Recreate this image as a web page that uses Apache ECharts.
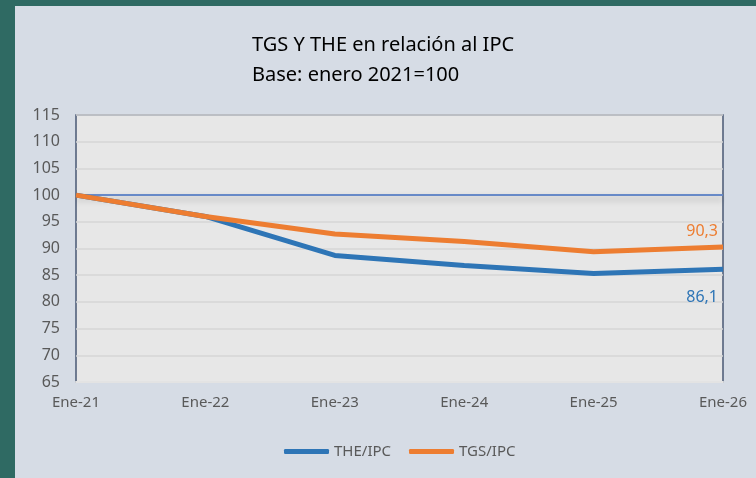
<!DOCTYPE html>
<html>
<head>
<meta charset="utf-8">
<script src="https://cdn.jsdelivr.net/npm/echarts@6/dist/echarts.min.js"></script>
<style>
  html, body { margin: 0; padding: 0; background: #2f6a63; width: 756px; height: 478px; overflow: hidden; }
  #chart { position: absolute; left: 15px; top: 6px; width: 741px; height: 472px; }
</style>
</head>
<body>
<div id="chart"></div>
<script>
// categorias y valores (indices, base enero 2021 = 100)
var months = ["Ene-21", "Ene-22", "Ene-23", "Ene-24", "Ene-25", "Ene-26"];
var theIpc = [100, 96, 88.7, 86.8, 85.3, 86.1];
var tgsIpc = [100, 96, 92.7, 91.3, 89.4, 90.3];
var baseLine = [100, 100, 100, 100, 100, 100];

var font = "Noto Sans";
var chart = echarts.init(document.getElementById("chart"));

// etiqueta del ultimo punto, con coma decimal
function endLbl(color, dy) {
  return {
    show: true,
    distance: 0,
    align: "right",
    verticalAlign: "middle",
    offset: [-5, dy],
    color: color,
    fontFamily: font,
    fontSize: 16,
    formatter: function (p) {
      return String(p.value).replace(".", ",");
    }
  };
}

var option = {
  backgroundColor: "#d6dce5",
  animation: false,
  title: {
    text: "TGS Y THE en relación al IPC\nBase: enero 2021=100",
    left: 232,
    top: 19,
    textStyle: {
      fontFamily: font,
      fontSize: 20,
      fontWeight: "normal",
      color: "#000",
      lineHeight: 30
    }
  },
  legend: {
    data: ["THE/IPC", "TGS/IPC"],
    bottom: 14,
    left: 264,
    icon: "roundRect",
    itemWidth: 45,
    itemHeight: 5,
    itemGap: 18,
    textStyle: { fontFamily: font, fontSize: 15, color: "#595959" }
  },
  grid: {
    left: 61,
    top: 109,
    right: 33,
    bottom: 96,
    show: true,
    backgroundColor: "#e7e7e7",
    borderColor: "#4a5874",
    borderWidth: 1.5
  },
  xAxis: {
    type: "category",
    data: months,
    boundaryGap: false,
    axisLine: { show: true, lineStyle: { color: "#e3e3e3", width: 2 } },
    axisTick: { show: false },
    splitLine: { show: false },
    axisLabel: { fontFamily: font, fontSize: 15, color: "#595959", margin: 13 }
  },
  yAxis: {
    type: "value",
    min: 65,
    max: 115,
    interval: 5,
    axisLine: { show: false },
    axisTick: { show: false },
    splitLine: { lineStyle: { color: "#d6d6d6", width: 1.5 } },
    axisLabel: { fontFamily: font, fontSize: 16, color: "#595959", margin: 16 }
  },
  series: [
    {
      name: "Base",
      type: "line",
      data: baseLine,
      symbol: "none",
      silent: true,
      lineStyle: {
        color: "#4472c4",
        width: 1.5,
        shadowColor: "rgba(0,0,0,0.35)",
        shadowBlur: 6,
        shadowOffsetY: 4
      }
    },
    {
      name: "THE/IPC",
      type: "line",
      data: theIpc,
      symbol: "none",
      color: "#2e75b6",
      lineStyle: { color: "#2e75b6", width: 5 },
      endLabel: endLbl("#2e75b6", 28)
    },
    {
      name: "TGS/IPC",
      type: "line",
      data: tgsIpc,
      symbol: "none",
      color: "#ed7d31",
      lineStyle: { color: "#ed7d31", width: 5 },
      endLabel: endLbl("#ed7d31", -15)
    }
  ]
};

chart.setOption(option);
</script>
</body>
</html>
